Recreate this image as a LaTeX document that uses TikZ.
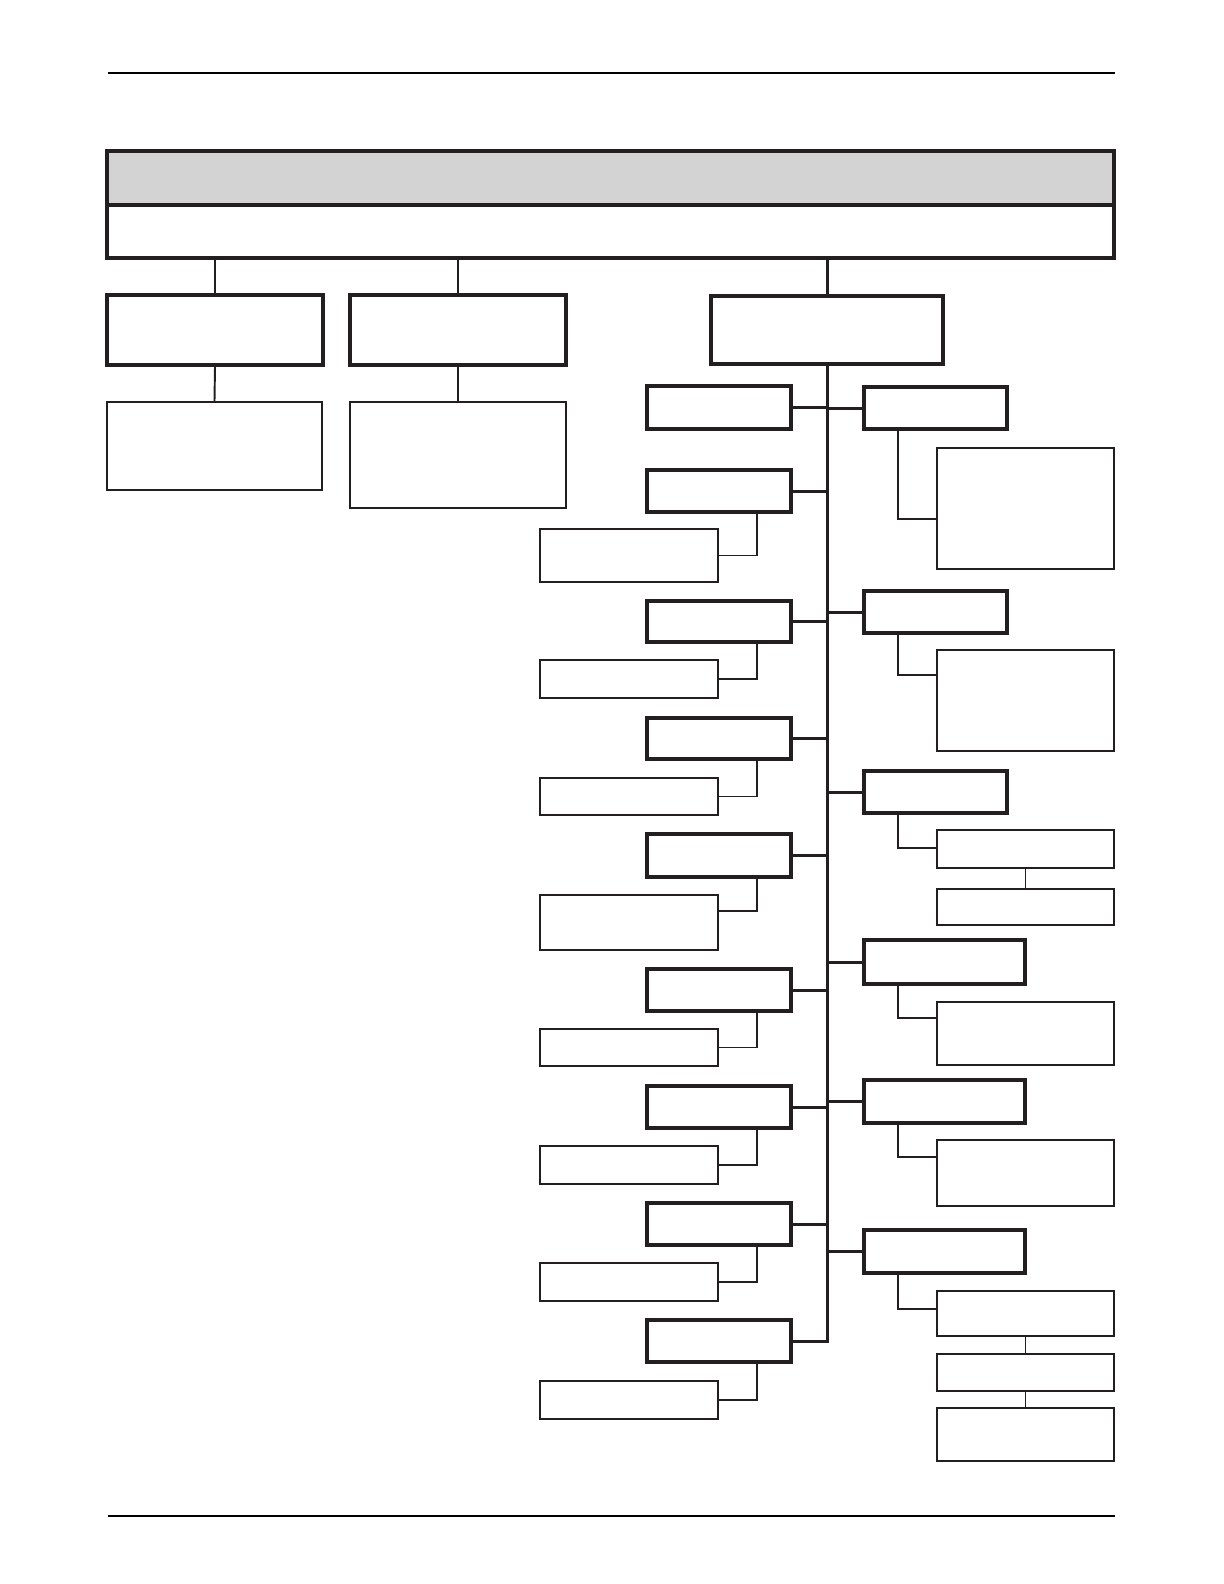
\documentclass[tikz,border=0pt]{standalone}
\usetikzlibrary{fit, calc}
\definecolor{ink}{RGB}{35,31,32}
\definecolor{band}{RGB}{211,211,211}
\begin{document}
\begin{tikzpicture}[x=0.01cm, y=-0.01cm, draw=ink,
  bigbox/.style={draw=ink, line width=0.95pt, inner sep=0pt},
  smallbox/.style={draw=ink, line width=0.6pt, inner sep=0pt},
  thick link/.style={draw=ink, line width=0.85pt},
  thin link/.style={draw=ink, line width=0.55pt}]
  \useasboundingbox (0,0) rectangle (1224,1584);
  % lineas de pagina
  \draw[line width=0.7pt, black] (108,73) -- (1115,73);
  \draw[line width=0.7pt, black] (108,1516) -- (1115,1516);
  % cabecera
  \node[bigbox, fill=band, fit={(107,151) (1114,205)}] (hdr) {};
  \node[bigbox, fit={(107,205) (1114,258)}] (sub) {};
  % primer nivel
  \node[bigbox, fit={(107,295) (323,365)}] (a) {};
  \node[bigbox, fit={(350,295) (566,365)}] (b) {};
  \node[bigbox, fit={(711,296) (943,364)}] (c) {};
  \node[smallbox, fit={(107,402) (322,490)}] (ac) {};
  \node[smallbox, fit={(350,402) (566,508)}] (bc) {};
  \draw[thick link] (sub.south -| a.north) -- (a.north);
  \draw[thick link] (sub.south -| b.north) -- (b.north);
  \draw[thick link] (sub.south -| c.north) -- (c.north);
  \draw[thin link] (a.south) -- (ac.north);
  \draw[thin link] (b.south) -- (bc.north);
  % columna izquierda
  \foreach \n/\t/\b in {1/386/429, 2/470/512, 3/601/642, 4/718/759, 5/834/877,
                        6/969/1011, 7/1086/1128, 8/1203/1245, 9/1320/1362}
    \node[bigbox, fit={(647,\t) (791,\b)}] (l\n) {};
  \foreach \n/\t/\b in {2/529/582, 3/660/698, 4/778/815, 5/895/950,
                        6/1029/1066, 7/1146/1184, 8/1263/1301, 9/1381/1419}
    \node[smallbox, fit={(540,\t) (718,\b)}] (l\n c) {};
  % columna derecha
  \node[bigbox, fit={(864,387) (1007,429)}] (r1) {};
  \node[bigbox, fit={(864,591) (1007,633)}] (r2) {};
  \node[bigbox, fit={(864,771) (1007,813)}] (r3) {};
  \node[bigbox, fit={(864,940) (1025,984)}] (r4) {};
  \node[bigbox, fit={(864,1080) (1025,1123)}] (r5) {};
  \node[bigbox, fit={(864,1230) (1025,1273)}] (r6) {};
  \node[smallbox, fit={(937,448) (1114,569)}] (r1c) {};
  \node[smallbox, fit={(937,650) (1114,751)}] (r2c) {};
  \node[smallbox, fit={(937,830) (1114,868)}] (r3c) {};
  \node[smallbox, fit={(937,889) (1114,925)}] (r3d) {};
  \node[smallbox, fit={(937,1002) (1114,1065)}] (r4c) {};
  \node[smallbox, fit={(937,1140) (1114,1206)}] (r5c) {};
  \node[smallbox, fit={(937,1291) (1114,1336)}] (r6c) {};
  \node[smallbox, fit={(937,1354) (1114,1391)}] (r6d) {};
  \node[smallbox, fit={(937,1408) (1114,1461)}] (r6e) {};
  % eje central
  \draw[thick link] (c.south) |- (l9.east);
  \foreach \n in {1,...,8}
    \draw[thick link] (l\n.east) -- (l\n.east -| c.south);
  \foreach \n in {1,...,6}
    \draw[thick link] (r\n.west) -- (r\n.west -| c.south);
  % ramas izquierda
  \foreach \n in {2,3,4,6,7,8,9}
    \draw[thin link] ($(l\n.south east)+(-36,0)$) |- (l\n c.east);
  \draw[thin link] ($(l5.south east)+(-36,0)$) |- ($(l5c.north east)+(0,17)$);
  % ramas derecha
  \foreach \n/\d in {1/72, 2/26, 3/19, 4/17, 5/18, 6/19}
    \draw[thin link] ($(r\n.south west)+(36,0)$) |- ($(r\n c.north west)+(0,\d)$);
  \draw[thin link] (r3c.south) -- (r3d.north);
  \draw[thin link] (r6c.south) -- (r6d.north);
  \draw[thin link] (r6d.south) -- (r6e.north);
\end{tikzpicture}
\end{document}
